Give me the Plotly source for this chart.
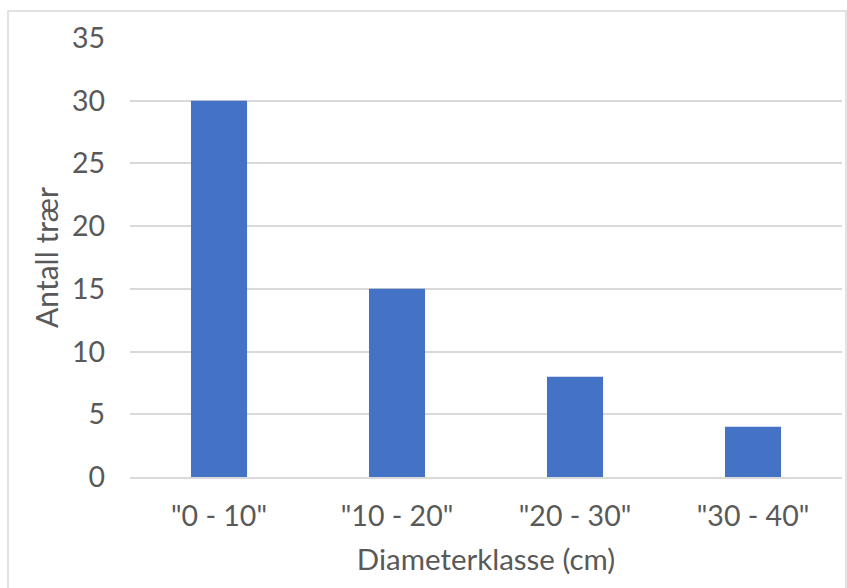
import plotly.graph_objects as go

categories = ['"0 - 10"', '"10 - 20"', '"20 - 30"', '"30 - 40"']
antall_traer = [30, 15, 8, 4]
y_ticks = [0, 5, 10, 15, 20, 25, 30, 35]

text_color = "#595959"
grid_color = "#d9d9d9"
font_family = "Lato, Carlito, Open Sans, sans-serif"
font_size = 28.5

fig = go.Figure(
    go.Bar(
        x=categories,
        y=antall_traer,
        marker=dict(color="#4472c4", line=dict(width=0)),
    )
)

fig.update_layout(
    width=847,
    height=588,
    margin=dict(l=130, r=5, t=38, b=111),
    paper_bgcolor="white",
    plot_bgcolor="white",
    bargap=0.685,
    showlegend=False,
    font=dict(family=font_family, color=text_color, size=font_size),
    xaxis=dict(
        showgrid=False,
        showline=True,
        linecolor=grid_color,
        linewidth=1.5,
        ticks="",
        ticklabelstandoff=13,
        tickfont=dict(size=font_size, color=text_color),
        title=dict(text="Diameterklasse (cm)", standoff=18,
                   font=dict(size=29.5, color=text_color)),
    ),
    yaxis=dict(
        range=[0, 35],
        tickvals=y_ticks,
        showgrid=True,
        gridcolor=grid_color,
        gridwidth=1.5,
        zeroline=False,
        showline=False,
        ticks="",
        ticklabelstandoff=24,
        tickfont=dict(size=font_size, color=text_color),
        title=dict(text="Antall trær", standoff=4,
                   font=dict(size=30, color=text_color)),
    ),
    shapes=[
        dict(type="rect", xref="paper", yref="paper",
             x0=(8 - 130) / 712, x1=(846 - 130) / 712,
             y0=(477 - 600) / 439, y1=(477 - 11) / 439,
             line=dict(color="#d9d9d9", width=1.5), fillcolor="rgba(0,0,0,0)",
             layer="below"),
    ],
)

fig.write_html("out.html")
